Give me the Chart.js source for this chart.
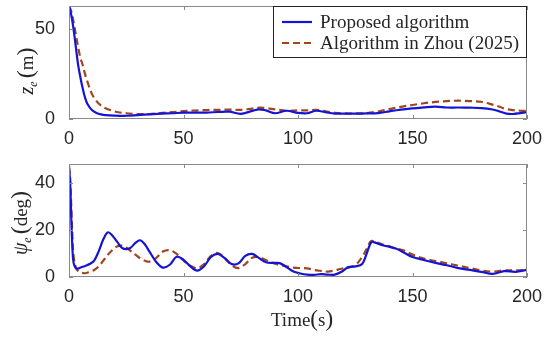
<!DOCTYPE html>
<html>
<head>
<meta charset="utf-8">
<script src="https://cdn.jsdelivr.net/npm/chart.js@4.4.1/dist/chart.umd.min.js"></script>
<style>
  body { margin: 0; background: #fff; }
  #wrap { position: relative; width: 550px; height: 337px; }
  #topChart { position: absolute; left: 0; top: 0; }
  #bottomChart { position: absolute; left: 0; top: 160px; }
</style>
</head>
<body>
<div id="wrap">
  <canvas id="topChart" width="550" height="160"></canvas>
  <canvas id="bottomChart" width="550" height="177"></canvas>
</div>
<script>
// Data
const seriesLabels = ['Proposed algorithm', 'Algorithm in Zhou (2025)'];
const xTicks = [0, 50, 100, 150, 200];
const zTicks = [0, 50];
const psiTicks = [0, 20, 40];

// upper panel: z_e (m)
const timeTop = [0, 1, 2, 3, 4, 5, 6, 7, 8, 10, 12, 14, 16, 20, 25, 30, 35, 40, 45, 50,
  55, 60, 65, 70, 75, 80, 83, 86, 90, 95, 100, 104, 108, 112, 116, 120, 125, 130, 135, 140,
  145, 150, 155, 160, 165, 170, 175, 180, 185, 188, 191, 194, 197, 200];
const proposedTop = [63, 58, 50, 40, 30, 23, 17, 12, 8.5, 5, 3.4, 2.6, 2.2, 1.9, 1.8, 2.2, 2.6, 3, 3.2, 3.5,
  3.5, 3.6, 3.9, 4.1, 2.9, 4.5, 5.4, 4.8, 3.2, 4.6, 3.4, 3.2, 4.6, 3.8, 3.0, 3.0, 3.0, 3.1, 3.3, 4.3,
  5.2, 5.9, 6.5, 6.9, 6.4, 6.4, 6.3, 6.1, 5.3, 4.2, 3.0, 2.8, 3.3, 3.8];
const zhouTop = [63, 60, 54, 47, 40, 34, 30, 25, 21, 14, 10, 7.5, 6, 4.2, 3.2, 2.8, 2.8, 3.3, 3.8, 4.4,
  4.7, 5, 5.1, 5.2, 5.1, 5.8, 6.3, 6.1, 5.4, 4.6, 4.8, 4.8, 5.1, 4.3, 3.5, 3.1, 3.1, 3.3, 4.2, 5.5,
  6.8, 7.8, 8.8, 9.5, 10, 10.2, 10, 9.6, 8.0, 6.8, 5.5, 4.9, 4.6, 4.6];

// lower panel: psi_e (deg)
const timeBottom = [0, 0.5, 1, 1.5, 2, 3, 4, 5, 7, 9, 11, 13, 15, 17, 19, 21, 23, 25, 27, 29,
  31, 33, 35, 38, 41, 44, 47, 50, 53, 56, 59, 62, 65, 68, 71, 74, 77, 80, 83, 86,
  89, 92, 95, 98, 101, 104, 107, 110, 113, 116, 119, 122, 125, 128, 130, 132, 134, 137, 140, 143,
  146, 150, 155, 160, 165, 170, 175, 180, 185, 190, 195, 200];
const proposedBottom = [47, 40, 25, 12, 6, 3.7, 3.6, 4, 4.7, 5.5, 7, 11, 16, 19, 17.5, 15, 12.5, 11.8, 12.5, 14.5,
  15.6, 14, 11, 6.5, 4.0, 5.2, 8.6, 7.3, 4.5, 2.7, 4.6, 8.5, 9.8, 8, 5.5, 5.8, 9, 9.8, 8, 6.3,
  6, 5.9, 4.2, 2.3, 1.5, 1.0, 0.9, 1.2, 1.0, 1.0, 2.2, 4.2, 4.5, 5.5, 10, 14.8, 14.5, 13.5, 12.8, 12,
  10.5, 8.5, 7.2, 6, 5, 3.8, 3, 2.2, 1.3, 2.5, 2.2, 3];
const zhouBottom = [47, 42, 30, 17, 9, 4, 2.5, 2, 1.6, 2.2, 3, 4.5, 7, 9.5, 11.5, 13, 13.3, 12.5, 11, 9.5,
  8, 7, 6.5, 8, 10.8, 11.4, 9.8, 7, 4.8, 3.7, 5.5, 9, 10.2, 8, 5, 3.8, 5.5, 8.2, 8.4, 7.2,
  6, 5.2, 4.5, 4, 3.8, 3.7, 3, 2.6, 2.3, 2.8, 3.5, 4, 5, 8.5, 12, 15.3, 14.8, 13.8, 13, 12,
  11.4, 9.5, 7.8, 6.8, 5.8, 4.8, 3.8, 2.8, 2.3, 2.8, 2.8, 3];

const BLUE = '#1414d2';
const BROWN = '#a0461e';
const SERIF = '"Liberation Serif", "Times New Roman", serif';
const SANS = '"Liberation Sans", Arial, sans-serif';
const TEXT = '#262626';

function toPoints(xs, ys) {
    return xs.map((x, i) => ({ x: x, y: ys[i] }));
}

function makeDatasets(xs, a, b) {
    return [
        { label: seriesLabels[0], data: toPoints(xs, a), borderColor: BLUE, borderWidth: 2.2,
          pointRadius: 0, tension: 0.35 },
        { label: seriesLabels[1], data: toPoints(xs, b), borderColor: BROWN, borderWidth: 2.2,
          borderDash: [7, 4], pointRadius: 0, tension: 0.35 }
    ];
}

// draws text pieces in a row, optionally rotated, centered on (cx, cy) baseline
function drawRich(ctx, parts, cx, cy, rotated) {
    ctx.save();
    ctx.translate(cx, cy);
    if (rotated) ctx.rotate(-Math.PI / 2);
    ctx.fillStyle = TEXT;
    ctx.textBaseline = 'alphabetic';
    ctx.textAlign = 'left';
    let total = 0;
    parts.forEach(p => { ctx.font = p.font; p.w = ctx.measureText(p.text).width; total += p.w + (p.gap || 0); });
    let x = -total / 2;
    parts.forEach(p => {
        ctx.font = p.font;
        ctx.fillText(p.text, x, p.dy || 0);
        x += p.w + (p.gap || 0);
    });
    ctx.restore();
}

const framePlugin = {
    id: 'frame',
    beforeDatasetsDraw(chart) {
        const a = chart.chartArea;
        chart.ctx.save();
        chart.ctx.beginPath();
        chart.ctx.rect(a.left, a.top, a.right - a.left, a.bottom - a.top);
        chart.ctx.clip();
    },
    afterDatasetsDraw(chart) {
        chart.ctx.restore();
    },
    afterDraw(chart, args, opts) {
        const ctx = chart.ctx;
        const a = chart.chartArea;
        const xs = chart.scales.x, ys = chart.scales.y;
        ctx.save();
        ctx.strokeStyle = '#8a8a8a';
        ctx.lineWidth = 1;
        ctx.strokeRect(Math.round(a.left) + 0.5, Math.round(a.top) + 0.5,
            Math.round(a.right - a.left) - 1, Math.round(a.bottom - a.top) - 1);
        // inward ticks on all four sides
        ctx.beginPath();
        const tl = 4;
        xs.ticks.forEach(t => {
            const px = Math.round(xs.getPixelForValue(t.value)) + 0.5;
            ctx.moveTo(px, a.bottom); ctx.lineTo(px, a.bottom - tl);
            ctx.moveTo(px, a.top); ctx.lineTo(px, a.top + tl);
        });
        ys.ticks.forEach(t => {
            const py = Math.round(ys.getPixelForValue(t.value)) + 0.5;
            ctx.moveTo(a.left, py); ctx.lineTo(a.left + tl, py);
            ctx.moveTo(a.right, py); ctx.lineTo(a.right - tl, py);
        });
        ctx.stroke();
        ctx.restore();

        if (opts.yTitle) drawRich(ctx, opts.yTitle.parts, opts.yTitle.x, opts.yTitle.y, true);
        if (opts.xTitle) drawRich(ctx, opts.xTitle.parts, opts.xTitle.x, opts.xTitle.y, false);

        if (opts.legend) {
            const L = opts.legend;
            ctx.save();
            ctx.fillStyle = '#fff';
            ctx.fillRect(L.left, L.top, L.right - L.left, L.bottom - L.top);
            ctx.strokeStyle = '#222';
            ctx.lineWidth = 1;
            ctx.strokeRect(L.left + 0.5, L.top + 0.5, L.right - L.left - 1, L.bottom - L.top - 1);
            chart.data.datasets.forEach((ds, i) => {
                const y = L.rows[i];
                ctx.strokeStyle = ds.borderColor;
                ctx.lineWidth = ds.borderWidth;
                ctx.setLineDash(ds.borderDash || []);
                ctx.beginPath();
                ctx.moveTo(L.left + 9, y);
                ctx.lineTo(L.left + 39, y);
                ctx.stroke();
                ctx.setLineDash([]);
                ctx.fillStyle = TEXT;
                ctx.font = '19px ' + SERIF;
                ctx.textBaseline = 'middle';
                ctx.fillText(ds.label, L.left + 47, y + 1);
            });
            ctx.restore();
        }
    }
};

function noPad(s) {
    s.paddingTop = 0; s.paddingBottom = 0; s.paddingLeft = 0; s.paddingRight = 0;
}

function makeOptions(yMax, yTickList, padTop, xHeight, frame) {
    return {
        responsive: false,
        animation: false,
        devicePixelRatio: 1,
        layout: { padding: { left: 0, right: 23, top: padTop, bottom: 0 } },
        plugins: { legend: { display: false }, tooltip: { enabled: false }, frame: frame },
        scales: {
            x: {
                type: 'linear', min: 0, max: 200,
                grid: { display: false }, border: { display: false },
                afterBuildTicks: s => { s.ticks = xTicks.map(v => ({ value: v })); },
                afterFit: s => { s.height = xHeight; noPad(s); },
                ticks: { color: TEXT, font: { family: SANS, size: 18 }, padding: 1, maxRotation: 0 }
            },
            y: {
                type: 'linear', min: 0, max: yMax,
                grid: { display: false }, border: { display: false },
                afterBuildTicks: s => { s.ticks = yTickList.map(v => ({ value: v })); },
                afterFit: s => { s.width = 69; noPad(s); },
                ticks: { color: TEXT, font: { family: SANS, size: 18 }, padding: 6 }
            }
        }
    };
}

new Chart(document.getElementById('topChart'), {
    type: 'line',
    data: { datasets: makeDatasets(timeTop, proposedTop, zhouTop) },
    options: makeOptions(63, zTicks, 6, 41, {
        yTitle: { x: 33, y: 71, parts: [
            { text: 'z', font: 'italic 20px ' + SERIF },
            { text: 'e', font: 'italic 12px ' + SERIF, dy: 4, gap: 3 },
            { text: '(', font: '24px ' + SERIF },
            { text: 'm', font: '19px ' + SERIF },
            { text: ')', font: '24px ' + SERIF }
        ] },
        legend: { left: 273, top: 6, right: 527, bottom: 58, rows: [22, 43] }
    }),
    plugins: [framePlugin]
});

new Chart(document.getElementById('bottomChart'), {
    type: 'line',
    data: { datasets: makeDatasets(timeBottom, proposedBottom, zhouBottom) },
    options: makeOptions(48, psiTicks, 4, 60, {
        yTitle: { x: 27, y: 63, parts: [
            { text: 'ψ', font: 'italic 20px ' + SERIF },
            { text: 'e', font: 'italic 12px ' + SERIF, dy: 4, gap: 3 },
            { text: '(', font: '24px ' + SERIF },
            { text: 'deg', font: '19px ' + SERIF },
            { text: ')', font: '24px ' + SERIF }
        ] },
        xTitle: { x: 302, y: 166, parts: [
            { text: 'Time', font: '19px ' + SERIF },
            { text: '(', font: '23px ' + SERIF },
            { text: 's', font: '19px ' + SERIF },
            { text: ')', font: '23px ' + SERIF }
        ] }
    }),
    plugins: [framePlugin]
});
</script>
</body>
</html>
